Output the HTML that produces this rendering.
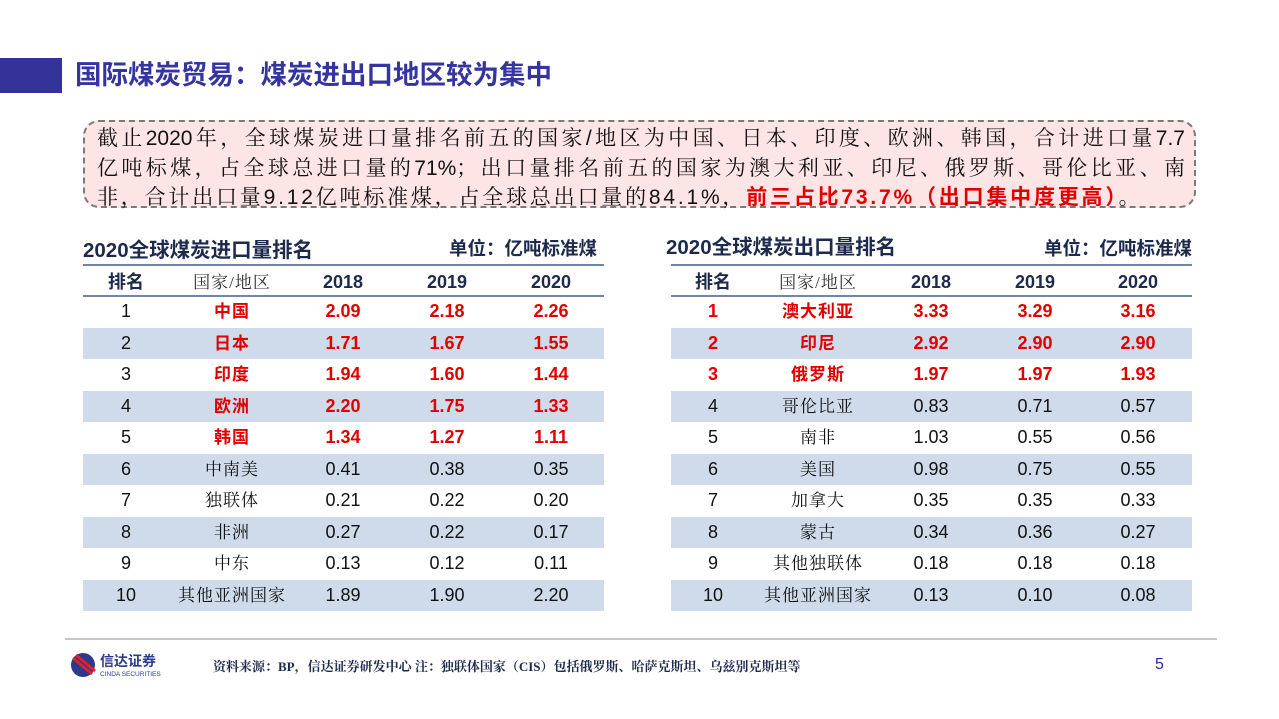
<!DOCTYPE html>
<html><head><meta charset="utf-8">
<style>
body{margin:0;width:1279px;height:719px;background:#fff;position:relative;overflow:hidden;font-family:"Liberation Sans","Noto Sans CJK SC",sans-serif;}
.abs{position:absolute;}
#bar{left:0;top:58px;width:62px;height:35px;background:#33339a;}
#title{left:75px;top:58px;height:35px;line-height:35px;font-size:26.5px;font-weight:bold;color:#3535a0;font-family:"Liberation Sans","Noto Sans CJK SC",sans-serif;}
#box{left:83px;top:120px;width:1113px;height:88px;border:2.5px dashed #7a7a7a;border-radius:16px;background:#fde5e5;box-sizing:border-box;}
.dl{position:absolute;left:97px;width:1088px;height:30px;line-height:30px;font-size:21px;color:#111;font-family:"Liberation Sans","Noto Serif CJK SC",serif;white-space:nowrap;}
.j{text-align:justify;text-align-last:justify;}
.dl b{color:#e00000;font-family:"Liberation Sans","Noto Sans CJK SC",sans-serif;}
.ttl{font-size:20.5px;font-weight:bold;color:#1d2a4d;font-family:"Liberation Sans","Noto Sans CJK SC",sans-serif;}
.unit{font-size:18.5px;font-weight:bold;color:#1d2a4d;}
.tbl{position:absolute;top:265px;}
.hl{position:absolute;left:0;right:0;height:2px;background:#6f86a8;}
.row{position:absolute;left:0;right:0;height:31.5px;}
.row.shade{background:#cfdbea;}
.cell{position:absolute;top:0;height:31.5px;line-height:31.5px;text-align:center;font-size:18px;color:#111;transform:translateX(-50%);white-space:nowrap;}
.cn{font-family:"Liberation Serif","Noto Serif CJK SC",serif;font-size:17px;letter-spacing:1px;}
.red{color:#e00000;font-weight:bold;}
.red.cn{font-family:"Liberation Sans","Noto Sans CJK SC",sans-serif;}
.hdr{font-weight:bold;color:#1d2a4d;}
#fline{left:65px;top:638px;width:1152px;height:2px;background:#c8c8c8;}
#foot{left:213px;top:656px;font-size:13px;font-weight:bold;color:#1d2a4d;font-family:"Liberation Serif","Noto Serif CJK SC",serif;white-space:nowrap;}
#pnum{left:1155px;top:656px;font-size:16px;color:#2727a8;}
</style></head><body>
<div class="abs" id="bar"></div>
<div class="abs" id="title">国际煤炭贸易：煤炭进出口地区较为集中</div>
<div class="abs" id="box"></div>
<div class="dl j" style="top:124px">截止2020年，全球煤炭进口量排名前五的国家/地区为中国、日本、印度、欧洲、韩国，合计进口量7.7</div>
<div class="dl j" style="top:154px">亿吨标煤，占全球总进口量的71%；出口量排名前五的国家为澳大利亚、印尼、俄罗斯、哥伦比亚、南</div>
<div class="dl" style="top:183px;letter-spacing:2.8px;">非，合计出口量9.12亿吨标准煤，占全球总出口量的84.1%，<b>前三占比73.7%（出口集中度更高）</b>。</div>

<div class="abs ttl" style="left:83px;top:233px;">2020全球煤炭进口量排名</div>
<div class="abs unit" style="left:420px;top:235px;width:177px;text-align:right;">单位：亿吨标准煤</div>
<div class="abs ttl" style="left:666px;top:230px;">2020全球煤炭出口量排名</div>
<div class="abs unit" style="left:1010px;top:235px;width:182px;text-align:right;">单位：亿吨标准煤</div>

<div class="tbl" id="timp" style="left:83px;width:521px;height:347px;"></div>
<div class="tbl" id="texp" style="left:671px;width:521px;height:347px;"></div>

<div class="abs" id="fline"></div>
<svg class="abs" style="left:70px;top:652px" width="125" height="26">
<circle cx="13" cy="13" r="12" fill="#2c3a8c"/>
<path d="M3 6 L22 22 M6 3 L25 19" stroke="#e0202a" stroke-width="3" fill="none"/>
<text x="30" y="14" font-size="14" font-weight="bold" fill="#2c3a8c" font-family="Liberation Sans,Noto Sans CJK SC,sans-serif">信达证券</text>
<text x="30" y="24" font-size="6.5" fill="#2c3a8c" font-family="Liberation Sans,sans-serif">CINDA SECURITIES</text>
</svg>
<div class="abs" id="foot">资料来源：BP，信达证券研发中心 注：独联体国家（CIS）包括俄罗斯、哈萨克斯坦、乌兹别克斯坦等</div>
<div class="abs" id="pnum">5</div>

<script>
const years=["2018","2019","2020"];
const impNames=["中国","日本","印度","欧洲","韩国","中南美","独联体","非洲","中东","其他亚洲国家"];
const imp2018=[2.09,1.71,1.94,2.20,1.34,0.41,0.21,0.27,0.13,1.89];
const imp2019=[2.18,1.67,1.60,1.75,1.27,0.38,0.22,0.22,0.12,1.90];
const imp2020=[2.26,1.55,1.44,1.33,1.11,0.35,0.20,0.17,0.11,2.20];
const expNames=["澳大利亚","印尼","俄罗斯","哥伦比亚","南非","美国","加拿大","蒙古","其他独联体","其他亚洲国家"];
const exp2018=[3.33,2.92,1.97,0.83,1.03,0.98,0.35,0.34,0.18,0.13];
const exp2019=[3.29,2.90,1.97,0.71,0.55,0.75,0.35,0.36,0.18,0.10];
const exp2020=[3.16,2.90,1.93,0.57,0.56,0.55,0.33,0.27,0.18,0.08];

function build(id,names,v1,v2,v3,nRed,cols,rankRed,prefix){
  const t=document.getElementById(id);
  const hdrH=31;
  const rowH=31.5;
  for(let i=0;i<names.length;i++){
    const r=document.createElement('div');
    
    
    r.className='row'+(i%2===1?' shade':'');
    r.style.top=(hdrH+i*rowH)+'px';
    const vals=[String(i+1),names[i],v1[i].toFixed(2),v2[i].toFixed(2),v3[i].toFixed(2)];
    vals.forEach((v,j)=>{
      const c=document.createElement('div');
      
      
      let cls='cell';
      if(j===1)cls+=' cn';
      if(i<nRed && (j>0 || rankRed))cls+=' red';
      c.className=cls;
      c.style.left=cols[j]+'px';
      c.textContent=v;
      r.appendChild(c);
    });
    t.appendChild(r);
  }
  const heads=["排名","国家/地区"].concat(years);
  heads.forEach((h,j)=>{
    const c=document.createElement('div');
    
    
    c.className='cell hdr'+(j===1?' cn':'');
    if(j===1){c.style.fontWeight='normal';c.style.color='#333';}
    if(j===0){c.style.fontFamily='"Liberation Sans","Noto Sans CJK SC",sans-serif';}
    c.style.left=cols[j]+'px';
    c.style.top='2px';
    c.style.height=hdrH+'px';c.style.lineHeight=hdrH+'px';
    c.textContent=h;
    t.appendChild(c);
  });
  [0,hdrH].forEach(y=>{
    const l=document.createElement('div');
    
    
    l.className='hl';l.style.top=(y-1)+'px';
    t.appendChild(l);
  });
}
build('timp',impNames,imp2018,imp2019,imp2020,5,[43,149,260,364,468],false,'import');
build('texp',expNames,exp2018,exp2019,exp2020,3,[42,147,260,364,467],true,'export');
</script>
</body></html>
